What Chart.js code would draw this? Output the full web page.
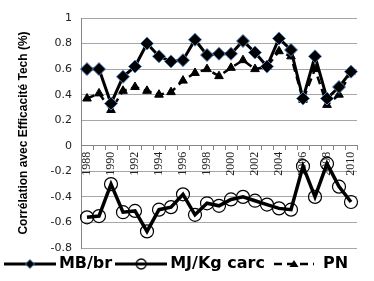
<!DOCTYPE html>
<html>
<head>
<meta charset="utf-8">
<script src="https://cdn.jsdelivr.net/npm/chart.js@4.4.1/dist/chart.umd.min.js"></script>
<style>
  html, body { margin: 0; padding: 0; background: #ffffff; }
  #wrap { width: 374px; height: 281px; }
</style>
</head>
<body>
<div id="wrap"><canvas id="chart" width="374" height="281"></canvas></div>
<script>
// Années (axe des x)
const years = ["1988", "1989", "1990", "1991", "1992", "1993", "1994", "1995",
  "1996", "1997", "1998", "1999", "2000", "2001", "2002", "2003", "2004",
  "2005", "2006", "2007", "2008", "2009", "2010"];

// Séries de corrélation
const mbBr = [0.60, 0.60, 0.33, 0.54, 0.62, 0.80, 0.70, 0.66, 0.67, 0.83, 0.71,
  0.72, 0.72, 0.82, 0.73, 0.62, 0.84, 0.75, 0.37, 0.70, 0.37, 0.46, 0.58];
const mjKgCarc = [-0.56, -0.55, -0.30, -0.52, -0.51, -0.67, -0.50, -0.48, -0.38,
  -0.54, -0.45, -0.47, -0.42, -0.40, -0.43, -0.46, -0.49, -0.50, -0.16, -0.40,
  -0.14, -0.32, -0.44];
const pn = [0.37, 0.41, 0.28, 0.43, 0.46, 0.43, 0.40, 0.42, 0.51, 0.57, 0.60,
  0.545, 0.61, 0.67, 0.60, 0.62, 0.74, 0.70, 0.36, 0.60, 0.32, 0.40, 0.58];

const seriesNames = ["MB/br", "MJ/Kg carc", "PN"];

// Axe des y
const yMin = -0.8;
const yMax = 1;
const yStep = 0.2;

const yTitle = "Corrélation avec Efficacité Tech (%)";

/**
 * Petite icône de légende : trait + marqueur
 */
function makeLegendIcon(kind) {
  const c = document.createElement("canvas");
  c.width = 52;
  c.height = 16;
  const g = c.getContext("2d");
  const cy = 8;
  const cx = c.width / 2;

  g.strokeStyle = "#000";
  g.lineWidth = kind === "pn" ? 2.5 : 3;
  if (kind === "pn") g.setLineDash([8, 5]);
  g.beginPath();
  g.moveTo(kind === "pn" ? 6 : 0, cy);
  g.lineTo(kind === "pn" ? c.width - 6 : c.width, cy);
  g.stroke();
  g.setLineDash([]);

  if (kind === "mb") {
    g.beginPath();
    g.moveTo(cx, cy - 4.5);
    g.lineTo(cx + 4.5, cy);
    g.lineTo(cx, cy + 4.5);
    g.lineTo(cx - 4.5, cy);
    g.closePath();
    g.fillStyle = "#000";
    g.fill();
    g.strokeStyle = "#4f81bd";
    g.lineWidth = 1;
    g.stroke();
  } else if (kind === "mj") {
    g.beginPath();
    g.arc(cx, cy, 5, 0, Math.PI * 2);
    g.strokeStyle = "#000";
    g.lineWidth = 1.3;
    g.stroke();
  } else {
    g.beginPath();
    g.moveTo(cx, cy - 4);
    g.lineTo(cx + 4.5, cy + 3);
    g.lineTo(cx - 4.5, cy + 3);
    g.closePath();
    g.fillStyle = "#000";
    g.fill();
  }
  return c;
}

const legendIcons = [makeLegendIcon("mb"), makeLegendIcon("mj"), makeLegendIcon("pn")];

const ctx = document.getElementById("chart");

new Chart(ctx, {
  type: "line",
  data: {
    labels: years,
    datasets: [
      {
        label: seriesNames[0],
        data: mbBr,
        borderColor: "#000",
        borderWidth: 3,
        pointStyle: "rectRot",
        pointRadius: 6.5,
        pointBackgroundColor: "#000",
        pointBorderColor: "#4f81bd",
        pointBorderWidth: 1,
        tension: 0,
      },
      {
        label: seriesNames[1],
        data: mjKgCarc,
        borderColor: "#000",
        borderWidth: 3.5,
        pointStyle: "circle",
        pointRadius: 6.5,
        pointBackgroundColor: "rgba(255,255,255,0)",
        pointBorderColor: "#000",
        pointBorderWidth: 1.2,
        tension: 0,
      },
      {
        label: seriesNames[2],
        data: pn,
        borderColor: "#000",
        borderWidth: 2.5,
        borderDash: [8, 5],
        pointStyle: "triangle",
        pointRadius: 5,
        pointBackgroundColor: "#000",
        pointBorderColor: "#000",
        pointBorderWidth: 1,
        tension: 0,
      },
    ],
  },
  options: {
    responsive: false,
    animation: false,
    layout: {
      padding: { top: 18, right: 17, bottom: -1, left: 0 },
    },
    plugins: {
      tooltip: { enabled: false },
      legend: {
        position: "bottom",
        labels: {
          usePointStyle: true,
          pointStyleWidth: 42,
          boxHeight: 16,
          padding: 8,
          color: "#000",
          font: { family: "DejaVu Sans", weight: "bold", size: 16 },
          generateLabels: function (chart) {
            const items = Chart.defaults.plugins.legend.labels.generateLabels(chart);
            items.forEach((item, i) => {
              item.pointStyle = legendIcons[i];
            });
            return items;
          },
        },
      },
    },
    scales: {
      x: {
        type: "category",
        position: { y: 0 },
        offset: true,
        grid: {
          display: true,
          drawOnChartArea: false,
          drawTicks: true,
          tickLength: 4,
          offset: true,
          color: "#868686",
        },
        border: { color: "#868686" },
        ticks: {
          autoSkip: false,
          minRotation: 90,
          maxRotation: 90,
          padding: 2,
          color: "#222",
          font: { family: "Liberation Serif", size: 12 },
          callback: function (value, index) {
            return index % 2 === 0 ? years[index] : "";
          },
        },
      },
      y: {
        min: yMin,
        max: yMax,
        grid: {
          color: "#a6a6a6",
          drawTicks: false,
        },
        border: { color: "#868686" },
        ticks: {
          stepSize: yStep,
          padding: 9,
          color: "#222",
          font: { family: "DejaVu Sans", size: 11 },
          callback: function (value) {
            return String(Math.round(value * 10) / 10);
          },
        },
        title: {
          display: true,
          text: yTitle,
          color: "#000",
          padding: { top: 16, bottom: 0 },
          font: { family: "Liberation Sans", weight: "bold", size: 12 },
        },
        afterFit: function (scale) {
          scale.width = 81;
        },
      },
    },
  },
});
</script>
</body>
</html>
